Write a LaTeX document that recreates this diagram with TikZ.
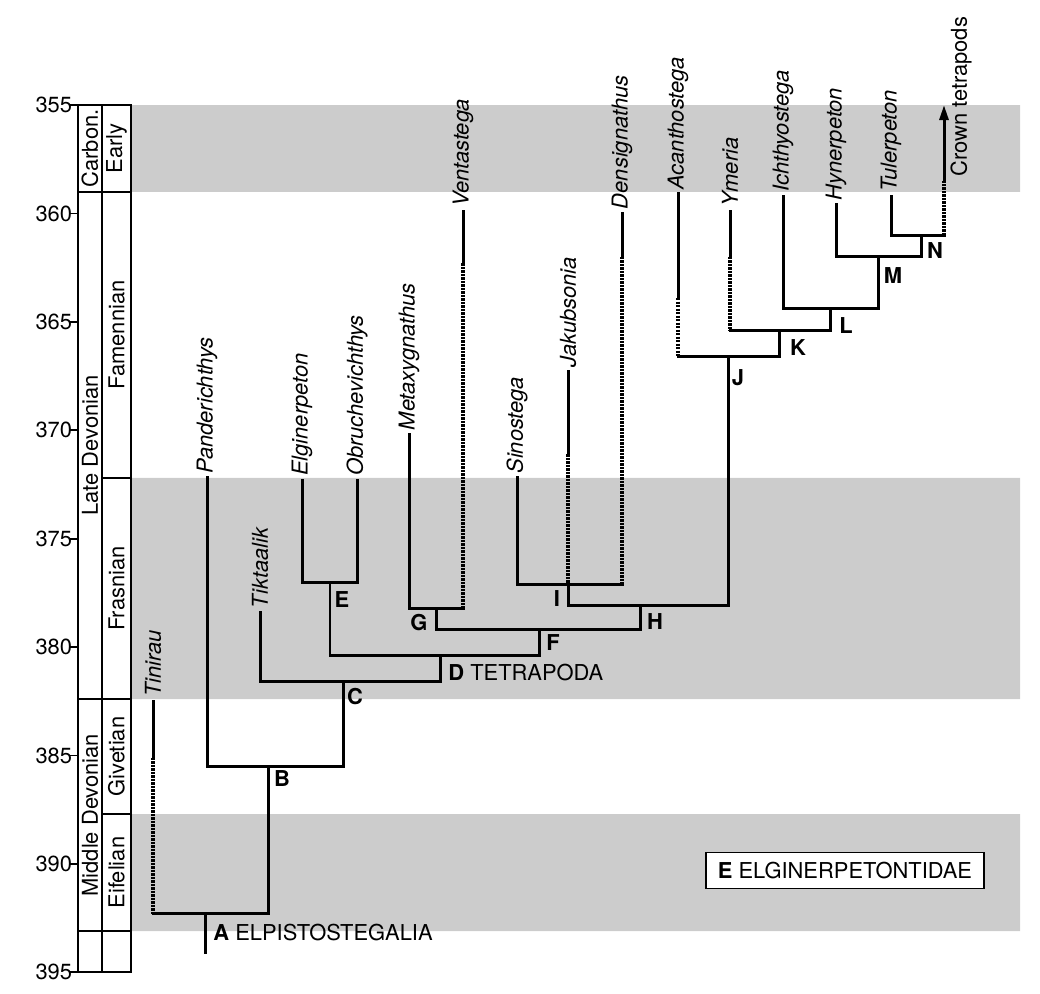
\documentclass[tikz,border=0pt,11pt]{standalone}
\usepackage{fontspec}
\setmainfont{TeX Gyre Heros}
\usepackage{tikz}
\usetikzlibrary{calc, arrows.meta}
\usepackage{tkz-euclide}
\usepackage{xcolor}
\definecolor{bandgray}{HTML}{CCCCCC}

\begin{document}
\begin{tikzpicture}[x=0.5pt, y=-10.84pt,
        branch/.style={line width=1.5pt, line cap=rect},
        gapline/.style={line width=1.6pt, dash pattern=on 1.2pt off 0.55pt},
        colline/.style={line width=0.9pt},
        taxon/.style={rotate=90, anchor=west, inner sep=2pt, font=\itshape},
        clade/.style={font=\bfseries, inner sep=1pt},
        stage/.style={rotate=90, inner sep=0pt}]
        \useasboundingbox (0,350.157) rectangle (1040,396.0);
        \fill[bandgray] (131,355) rectangle (1020,359) (131,372.2) rectangle (1020,382.4)
            (131,387.7) rectangle (1020,393.1);
        \draw[colline] (78,355) rectangle (131,395) (102,355) -- (102,395);
        \draw[colline] (78,359) -- (131,359) (78,382.4) -- (131,382.4) (78,393.1) -- (131,393.1)
            (102,372.2) -- (131,372.2) (102,387.7) -- (131,387.7);
        \foreach \t in {355,360,...,395}
            \draw[colline] (70,\t) -- (78,\t) node[left, inner sep=2.5pt] (tick\t) {\t};
        \node[stage] (carb) at (90,357) {Carbon.};
        \node[stage] (ldev) at (90,370.7) {Late Devonian};
        \node[stage] (mdev) at (90,387.75) {Middle Devonian};
        \node[stage] (early) at (116.5,357) {Early};
        \node[stage] (famen) at (116.5,365.6) {Famennian};
        \node[stage] (frasn) at (116.5,377.3) {Frasnian};
        \node[stage] (givet) at (116.5,385.05) {Givetian};
        \node[stage] (eifel) at (116.5,390.4) {Eifelian};
        \tkzDefPoints{153/382.5/Tin, 153/385.1/Tins, 207/372.2/Pan, 260/378.4/Tik,
            302/372.3/Elg, 357/372.3/Obr, 409/370.2/Met, 463/359.9/Ven, 463/362.3/Vens,
            517/372.2/Sin, 568/367.3/Jak, 568/371.1/Jaks, 622/360/Den, 622/362/Dens,
            678/359.1/Aca, 678/363.9/Acas, 730/359.9/Yme, 730/362/Ymes,
            783/359.2/Ich, 836/359.6/Hyn, 891/359.2/Tul, 944/355/Cro, 944/358.5/Cros}
        \tkzDefPoints{153/392.3/a1, 268/392.3/a2, 205/392.3/a, 205/394.1/a0,
            207/385.5/b1, 343/385.5/b2, 268/385.5/b,
            260/381.6/c1, 440/381.6/c2, 343/381.6/c,
            330/380.4/d1, 539/380.4/d2, 440/380.4/d,
            302/377/e1, 357/377/e2, 330/377/e,
            436/379.2/f1, 640/379.2/f2, 539/379.2/f,
            409/378.2/g1, 463/378.2/g2, 436/378.2/g,
            568/378.1/h1, 728/378.1/h2, 640/378.1/h,
            517/377.1/i1, 622/377.1/i2, 568/377.1/i,
            678/366.6/j1, 779/366.6/j2, 728/366.6/j,
            730/365.4/k1, 830/365.4/k2, 779/365.4/k,
            783/364.4/l1, 878/364.4/l2, 830/364.4/l,
            836/362/m1, 921/362/m2, 878/362/m,
            891/361/n1, 944/361/n2, 921/361/n}
        \draw[branch] (a1) -- (a2) -- (b);
        \draw[branch] (a) -- (a0);
        \draw[branch] (Pan) -- (b1) -- (b2) -- (c);
        \draw[branch] (Tik) -- (c1) -- (c2) -- (d);
        \draw[branch] (d1) -- (d2) -- (f);
        \draw[line width=0.75pt] (e) -- (d1);
        \draw[branch] (Elg) -- (e1) -- (e2) -- (Obr);
        \draw[branch] (g) -- (f1) -- (f2) -- (h);
        \draw[branch] (Met) -- (g1) -- (g2);
        \draw[branch] (i) -- (h1) -- (h2) -- (j);
        \draw[branch] (Sin) -- (i1) -- (i2);
        \draw[branch] (j1) -- (j2) -- (k);
        \draw[branch] (k1) -- (k2) -- (l);
        \draw[branch] (Ich) -- (l1) -- (l2) -- (m);
        \draw[branch] (Hyn) -- (m1) -- (m2) -- (n);
        \draw[branch] (Tul) -- (n1) -- (n2);
        \draw[branch] (Tin) -- (Tins) (Ven) -- (Vens) (Jak) -- (Jaks) (Den) -- (Dens)
            (Aca) -- (Acas) (Yme) -- (Ymes);
        \draw[gapline] (Tins) -- (a1) (Vens) -- (g2) (Jaks) -- (i) (Dens) -- (i2)
            (Acas) -- (j1) (Ymes) -- (k1) (n2) -- (Cros);
        \draw[branch, line cap=butt, -{Triangle[length=7.5pt, width=4.5pt]}] (Cros) -- (Cro);
        \node[taxon] (tTin) at (Tin) {Tinirau};
        \node[taxon] (tPan) at (Pan) {Panderichthys};
        \node[taxon] (tTik) at (Tik) {Tiktaalik};
        \node[taxon] (tElg) at (Elg) {Elginerpeton};
        \node[taxon] (tObr) at (Obr) {Obruchevichthys};
        \node[taxon] (tMet) at (Met) {Metaxygnathus};
        \node[taxon] (tVen) at (Ven) {Ventastega};
        \node[taxon] (tSin) at (Sin) {Sinostega};
        \node[taxon] (tJak) at (Jak) {Jakubsonia};
        \node[taxon] (tDen) at (Den) {Densignathus};
        \node[taxon] (tAca) at (Aca) {Acanthostega};
        \node[taxon] (tYme) at (Yme) {Ymeria};
        \node[taxon] (tIch) at (Ich) {Ichthyostega};
        \node[taxon] (tHyn) at (Hyn) {Hynerpeton};
        \node[taxon] (tTul) at (Tul) {Tulerpeton};
        \node[taxon, font=\normalfont] (tCro) at (961,358.5) {Crown tetrapods};
        \node[anchor=west, inner sep=1pt] (lA) at (211,393.15) {\textbf{A} ELPISTOSTEGALIA};
        \node[clade] (lB) at (282,386.04) {B};
        \node[clade] (lC) at (355,382.3) {C};
        \node[anchor=west, inner sep=1pt] (lD) at (446,381.15) {\textbf{D} TETRAPODA};
        \node[clade] (lE) at (342,377.8) {E};
        \node[clade] (lF) at (553,379.8) {F};
        \node[clade] (lG) at (419,378.85) {G};
        \node[clade] (lH) at (655,378.82) {H};
        \node[clade] (lI) at (557,377.75) {I};
        \node[clade] (lJ) at (738,367.55) {J};
        \node[clade] (lK) at (798,366.2) {K};
        \node[clade] (lL) at (846,365.15) {L};
        \node[clade] (lM) at (893,362.84) {M};
        \node[clade] (lN) at (935,361.73) {N};
        \node[draw, fill=white, line width=0.6pt, inner xsep=6pt, inner ysep=5pt,
            text height=8pt, text depth=0pt] (legend) at (845,390.3) {\textbf{E} ELGINERPETONTIDAE};
    \end{tikzpicture}
\end{document}
